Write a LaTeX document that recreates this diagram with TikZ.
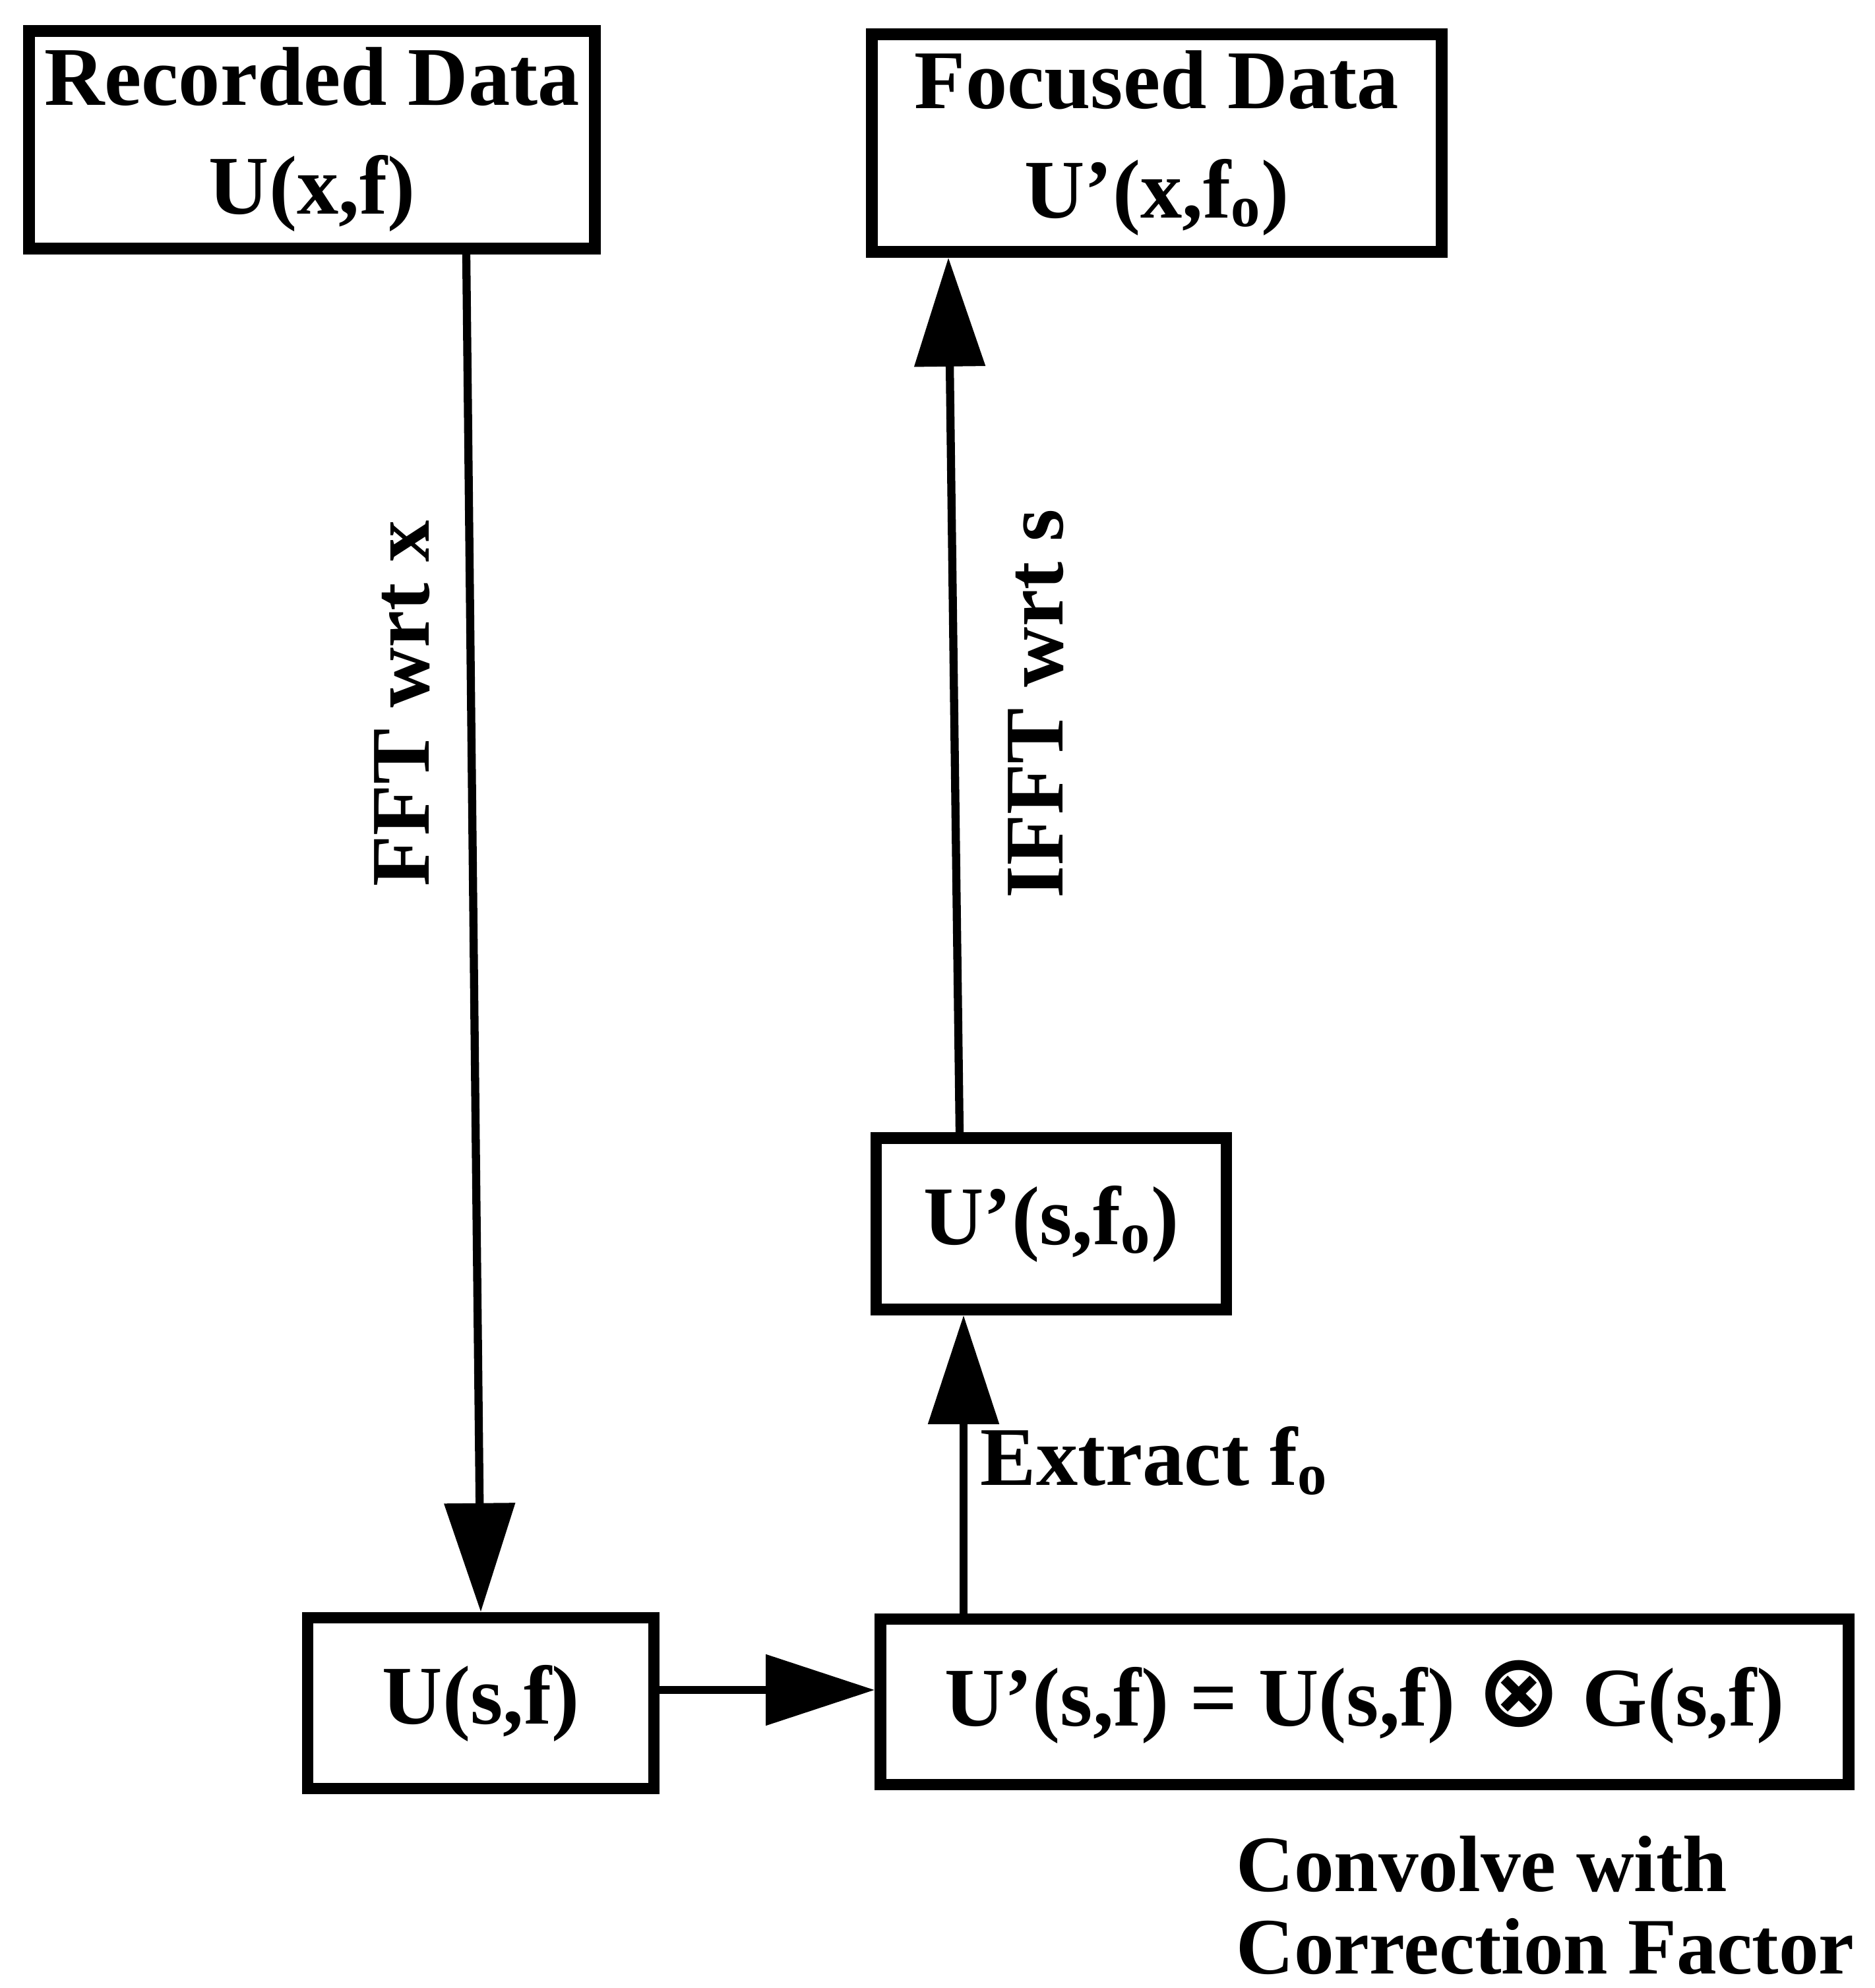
\documentclass[tikz,border=0pt]{standalone}
\usepackage{fontspec}
\setmainfont{Liberation Serif}
\newfontfamily\opsym{DejaVu Sans}
\usetikzlibrary{arrows.meta}

\begin{document}
\begin{tikzpicture}[every node/.style={font=\fontsize{36}{47}\selectfont\bfseries},
                    box/.style={rectangle,draw,line width=5pt,align=center,inner sep=0pt},
                    flow/.style={line width=3.5pt,-{Triangle[length=16.5mm,width=10.5mm]}}]
  \useasboundingbox (0,0) rectangle (28.43,30.15);

  % boxes
  \node[box,minimum width=8.58cm,minimum height=3.30cm] (rec) at (4.73,28.03) {Recorded Data\\U(x,f)};
  \node[box,minimum width=8.64cm,minimum height=3.30cm] (foc) at (17.54,27.98) {Focused Data\\U’(x,f\textsubscript{o})};
  \node[box,minimum width=5.31cm,minimum height=2.60cm] (usfo) at (15.94,11.59) {U’(s,f\textsubscript{o})};
  \node[box,minimum width=5.25cm,minimum height=2.59cm] (usf) at (7.29,4.32) {U(s,f)};
  \node[box,minimum width=14.68cm,minimum height=2.51cm] (conv) at (20.69,4.34)
       {U’(s,f) = U(s,f) {\opsym\fontsize{44}{44}\selectfont ⊗} G(s,f)};

  % connectors
  \draw[flow] ([xshift=2.34cm]rec.south) -- (usf.north);
  \draw[flow] ([yshift=0.2cm]usf.east) -- ([yshift=0.2cm]usf.east -| conv.west);
  \draw[flow] ([xshift=-6.08cm]conv.north) -- ([xshift=-6.08cm]conv.north |- usfo.south);
  \draw[flow] ([xshift=-1.39cm]usfo.north) -- ([xshift=-3.16cm]foc.south);

  % labels
  \node[rotate=90,anchor=base] (fft) at (6.50,19.48) {FFT wrt x};
  \node[rotate=90,anchor=base] (ifft) at (16.11,19.48) {IFFT wrt s};
  \node[anchor=base west,inner sep=0pt] (ext) at (14.86,7.62) {Extract f\textsubscript{o}};
  \node[anchor=base west,inner sep=0pt,align=left,font=\fontsize{34.5}{35.5}\selectfont\bfseries] (note)
       at (18.74,0.22) {Convolve with\\Correction Factor};
\end{tikzpicture}
\end{document}
